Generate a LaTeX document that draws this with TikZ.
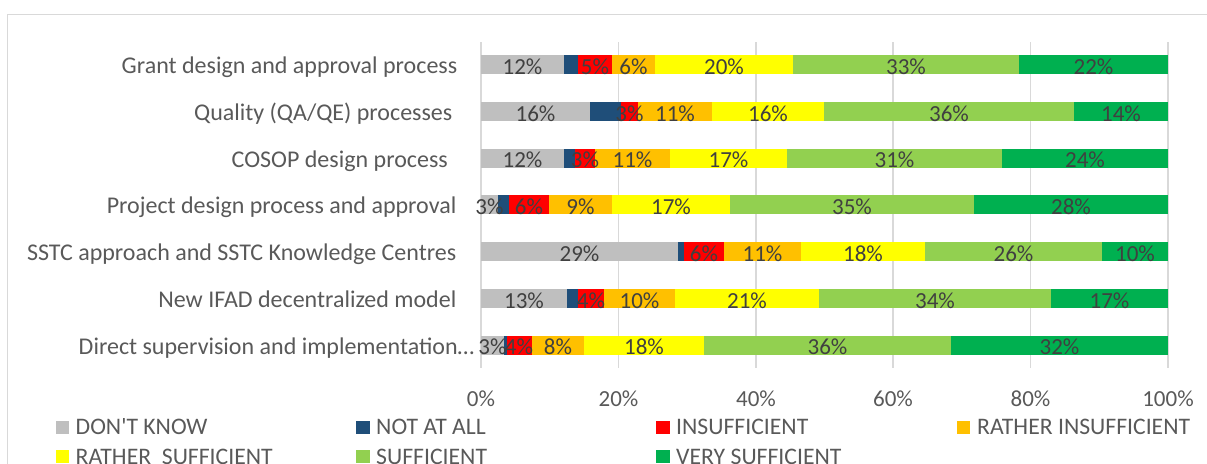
\documentclass[tikz,border=0pt]{standalone}
\usepackage{fontspec}
\setmainfont{Carlito}
\definecolor{dontknow}{HTML}{BFBFBF}
\definecolor{notatall}{HTML}{1F4E79}
\definecolor{insuff}{HTML}{FF0000}
\definecolor{ratherinsuff}{HTML}{FFC000}
\definecolor{rathersuff}{HTML}{FFFF00}
\definecolor{suff}{HTML}{92D050}
\definecolor{verysuff}{HTML}{00B050}
\definecolor{gridgrey}{HTML}{D9D9D9}
\definecolor{axisgrey}{HTML}{595959}
\definecolor{valgrey}{HTML}{404040}

\begin{document}
\begin{tikzpicture}[x=1pt,y=-1pt]
\tikzstyle{every node}+=[inner sep=0pt]
\tikzstyle{cat}=[anchor=base east,text=axisgrey,font=\fontsize{24}{28}\selectfont]
\tikzstyle{val}=[anchor=base,text=valgrey,font=\fontsize{23}{27}\selectfont]
\tikzstyle{tick}=[anchor=base,text=axisgrey,font=\fontsize{23}{27}\selectfont]
\tikzstyle{key}=[anchor=base west,text=axisgrey,font=\fontsize{23.7}{28}\selectfont]
\tikzstyle{grid}=[gridgrey,line width=1.5pt]
\useasboundingbox (0,0) rectangle (1207,463);
\draw [gridgrey,line width=1.5pt] (7.5,520) -- (7.5,14.5) -- (1260,14.5);
\draw [grid] (481,42) -- (481,368);
\draw [grid] (618.5,42) -- (618.5,368);
\draw [grid] (756,42) -- (756,368);
\draw [grid] (893,42) -- (893,368);
\draw [grid] (1030.5,42) -- (1030.5,368);
\draw [grid] (1168,42) -- (1168,368);
\fill [dontknow] (481,55) rectangle (564,74);
\fill [notatall] (564,55) rectangle (578,74);
\fill [insuff] (578,55) rectangle (612,74);
\fill [ratherinsuff] (612,55) rectangle (655,74);
\fill [rathersuff] (655,55) rectangle (793,74);
\fill [suff] (793,55) rectangle (1019,74);
\fill [verysuff] (1019,55) rectangle (1168,74);
\fill [dontknow] (481,102) rectangle (590,121);
\fill [notatall] (590,102) rectangle (621,121);
\fill [insuff] (621,102) rectangle (638,121);
\fill [ratherinsuff] (638,102) rectangle (712,121);
\fill [rathersuff] (712,102) rectangle (824,121);
\fill [suff] (824,102) rectangle (1074,121);
\fill [verysuff] (1074,102) rectangle (1168,121);
\fill [dontknow] (481,148.7) rectangle (564,167.7);
\fill [notatall] (564,148.7) rectangle (575,167.7);
\fill [insuff] (575,148.7) rectangle (595,167.7);
\fill [ratherinsuff] (595,148.7) rectangle (670,167.7);
\fill [rathersuff] (670,148.7) rectangle (787,167.7);
\fill [suff] (787,148.7) rectangle (1002,167.7);
\fill [verysuff] (1002,148.7) rectangle (1168,167.7);
\fill [dontknow] (481,195.3) rectangle (498,214.3);
\fill [notatall] (498,195.3) rectangle (509,214.3);
\fill [insuff] (509,195.3) rectangle (549,214.3);
\fill [ratherinsuff] (549,195.3) rectangle (612,214.3);
\fill [rathersuff] (612,195.3) rectangle (730,214.3);
\fill [suff] (730,195.3) rectangle (974,214.3);
\fill [verysuff] (974,195.3) rectangle (1168,214.3);
\fill [dontknow] (481,242.3) rectangle (678,261.3);
\fill [notatall] (678,242.3) rectangle (684,261.3);
\fill [insuff] (684,242.3) rectangle (724,261.3);
\fill [ratherinsuff] (724,242.3) rectangle (801,261.3);
\fill [rathersuff] (801,242.3) rectangle (925,261.3);
\fill [suff] (925,242.3) rectangle (1102,261.3);
\fill [verysuff] (1102,242.3) rectangle (1168,261.3);
\fill [dontknow] (481,289) rectangle (567,308);
\fill [notatall] (567,289) rectangle (578,308);
\fill [insuff] (578,289) rectangle (604,308);
\fill [ratherinsuff] (604,289) rectangle (675,308);
\fill [rathersuff] (675,289) rectangle (819,308);
\fill [suff] (819,289) rectangle (1051,308);
\fill [verysuff] (1051,289) rectangle (1168,308);
\fill [dontknow] (481,335.5) rectangle (504,354.5);
\fill [notatall] (504,335.5) rectangle (506.5,354.5);
\fill [insuff] (506.5,335.5) rectangle (532,354.5);
\fill [ratherinsuff] (532,335.5) rectangle (584,354.5);
\fill [rathersuff] (584,335.5) rectangle (704,354.5);
\fill [suff] (704,335.5) rectangle (951,354.5);
\fill [verysuff] (951,335.5) rectangle (1168,354.5);
\node [cat] (cat1) at (457.5,73.5) {Grant design and approval process};
\node [cat] (cat2) at (452.5,120.5) {Quality (QA/QE) processes};
\node [cat] (cat3) at (448,167.2) {COSOP design process};
\node [cat] (cat4) at (456.5,213.8) {Project design process and approval};
\node [cat] (cat5) at (456.5,260.8) {SSTC approach and SSTC Knowledge Centres};
\node [cat] (cat6) at (456.5,307.5) {New IFAD decentralized model};
\node [cat] (cat7) at (474.5,354) {Direct supervision and implementation…};
\node [val] (v11) at (522.5,74) {12\%};
\node [val] (v13) at (595,74) {5\%};
\node [val] (v14) at (633.5,74) {6\%};
\node [val] (v15) at (724,74) {20\%};
\node [val] (v16) at (906,74) {33\%};
\node [val] (v17) at (1093.5,74) {22\%};
\node [val] (v21) at (535.5,121) {16\%};
\node [val] (v23) at (629.5,121) {3\%};
\node [val] (v24) at (675,121) {11\%};
\node [val] (v25) at (768,121) {16\%};
\node [val] (v26) at (949,121) {36\%};
\node [val] (v27) at (1121,121) {14\%};
\node [val] (v31) at (522.5,167.7) {12\%};
\node [val] (v33) at (585,167.7) {3\%};
\node [val] (v34) at (632.5,167.7) {11\%};
\node [val] (v35) at (728.5,167.7) {17\%};
\node [val] (v36) at (894.5,167.7) {31\%};
\node [val] (v37) at (1085,167.7) {24\%};
\node [val] (v41) at (489.5,214.3) {3\%};
\node [val] (v43) at (529,214.3) {6\%};
\node [val] (v44) at (580.5,214.3) {9\%};
\node [val] (v45) at (671,214.3) {17\%};
\node [val] (v46) at (852,214.3) {35\%};
\node [val] (v47) at (1071,214.3) {28\%};
\node [val] (v51) at (579.5,261.3) {29\%};
\node [val] (v53) at (704,261.3) {6\%};
\node [val] (v54) at (762.5,261.3) {11\%};
\node [val] (v55) at (863,261.3) {18\%};
\node [val] (v56) at (1013.5,261.3) {26\%};
\node [val] (v57) at (1135,261.3) {10\%};
\node [val] (v61) at (524,308) {13\%};
\node [val] (v63) at (591,308) {4\%};
\node [val] (v64) at (639.5,308) {10\%};
\node [val] (v65) at (747,308) {21\%};
\node [val] (v66) at (935,308) {34\%};
\node [val] (v67) at (1109.5,308) {17\%};
\node [val] (v71) at (492.5,354.5) {3\%};
\node [val] (v73) at (519,354.5) {4\%};
\node [val] (v74) at (558,354.5) {8\%};
\node [val] (v75) at (644,354.5) {18\%};
\node [val] (v76) at (827.5,354.5) {36\%};
\node [val] (v77) at (1059.5,354.5) {32\%};
\node [tick] (t0) at (481,406.5) {0\%};
\node [tick] (t20) at (618.5,406.5) {20\%};
\node [tick] (t40) at (756,406.5) {40\%};
\node [tick] (t60) at (893,406.5) {60\%};
\node [tick] (t80) at (1030.5,406.5) {80\%};
\node [tick] (t100) at (1168,406.5) {100\%};
\fill [dontknow] (55.5,420.5) rectangle (69,433.5);
\node [key] (k1) at (75.5,434) {DON\textquotesingle T KNOW};
\fill [notatall] (356,420.5) rectangle (370,433.5);
\node [key] (k2) at (376,434) {NOT AT ALL};
\fill [insuff] (656,420.5) rectangle (670,433.5);
\node [key] (k3) at (676,434) {INSUFFICIENT};
\fill [ratherinsuff] (957,420.5) rectangle (970,433.5);
\node [key] (k4) at (977,434) {RATHER INSUFFICIENT};
\fill [rathersuff] (55.5,450) rectangle (69,463);
\node [key] (k5) at (75.5,464) {RATHER\ \ SUFFICIENT};
\fill [suff] (356,450) rectangle (370,463);
\node [key] (k6) at (376,464) {SUFFICIENT};
\fill [verysuff] (656,450) rectangle (670,463);
\node [key] (k7) at (676,464) {VERY SUFFICIENT};
\end{tikzpicture}
\end{document}
